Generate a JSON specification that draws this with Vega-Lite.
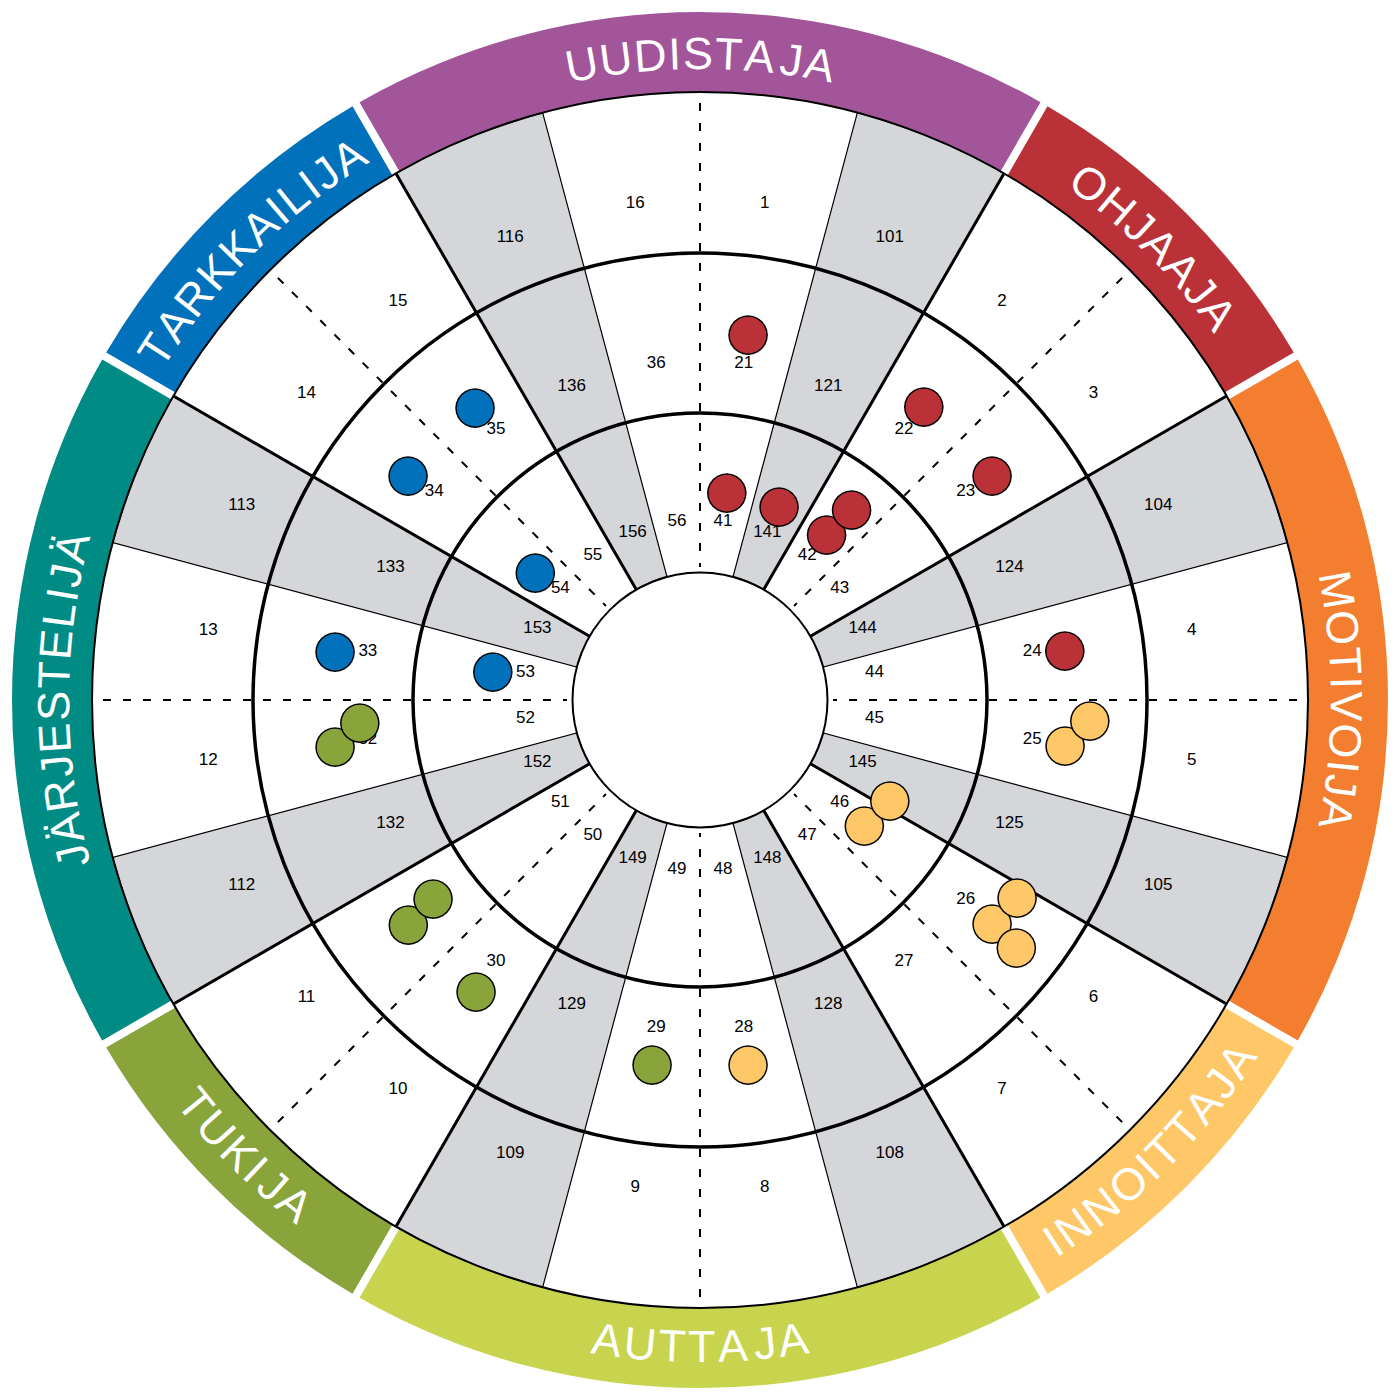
{
  "$schema": "https://vega.github.io/schema/vega-lite/v6.json",
  "width": 1400,
  "height": 1400,
  "autosize": {"type": "none"},
  "padding": 0,
  "background": "white",
  "config": {"view": {"stroke": null}},
  "datasets": {
    "bands": [
      {"role": "UUDISTAJA", "start": -30, "end": 30},
      {"role": "OHJAAJA", "start": 30, "end": 60},
      {"role": "MOTIVOIJA", "start": 60, "end": 120},
      {"role": "INNOITTAJA", "start": 120, "end": 150},
      {"role": "AUTTAJA", "start": 150, "end": 210},
      {"role": "TUKIJA", "start": 210, "end": 240},
      {"role": "JÄRJESTELIJÄ", "start": 240, "end": 300},
      {"role": "TARKKAILIJA", "start": 300, "end": 330}
    ],
    "lettersTop": [
      {"ch": "U", "a": -10.55}, {"ch": "U", "a": -7.48}, {"ch": "D", "a": -4.42}, {"ch": "I", "a": -2.24}, {"ch": "S", "a": -0.18},
      {"ch": "T", "a": 2.55}, {"ch": "A", "a": 5.29}, {"ch": "J", "a": 8.15}, {"ch": "A", "a": 10.66},
      {"ch": "O", "a": 37.03}, {"ch": "H", "a": 40.2}, {"ch": "J", "a": 42.82}, {"ch": "A", "a": 45.33}, {"ch": "A", "a": 48.18},
      {"ch": "J", "a": 50.69}, {"ch": "A", "a": 53.19},
      {"ch": "M", "a": 80.18}, {"ch": "O", "a": 83.58}, {"ch": "T", "a": 86.54}, {"ch": "I", "a": 88.49}, {"ch": "V", "a": 90.56},
      {"ch": "O", "a": 93.62}, {"ch": "I", "a": 95.91}, {"ch": "J", "a": 97.64}, {"ch": "A", "a": 100.15},
      {"ch": "J", "a": 256.03}, {"ch": "Ä", "a": 258.54}, {"ch": "R", "a": 261.49}, {"ch": "J", "a": 264.12}, {"ch": "E", "a": 266.62},
      {"ch": "S", "a": 269.47}, {"ch": "T", "a": 272.2}, {"ch": "E", "a": 274.93}, {"ch": "L", "a": 277.55}, {"ch": "I", "a": 279.39},
      {"ch": "J", "a": 281.13}, {"ch": "Ä", "a": 283.64},
      {"ch": "T", "a": 302.79}, {"ch": "A", "a": 305.52}, {"ch": "R", "a": 308.47}, {"ch": "K", "a": 311.42}, {"ch": "K", "a": 314.27},
      {"ch": "A", "a": 317.11}, {"ch": "I", "a": 319.18}, {"ch": "L", "a": 321.02}, {"ch": "I", "a": 322.86}, {"ch": "J", "a": 324.59},
      {"ch": "A", "a": 327.1}
    ],
    "lettersBottom": [
      {"ch": "I", "a": 146.9}, {"ch": "N", "a": 144.73}, {"ch": "N", "a": 141.66}, {"ch": "O", "a": 138.49}, {"ch": "I", "a": 136.2},
      {"ch": "T", "a": 134.24}, {"ch": "T", "a": 131.62}, {"ch": "A", "a": 128.89}, {"ch": "J", "a": 126.38}, {"ch": "A", "a": 123.87},
      {"ch": "A", "a": 188.26}, {"ch": "U", "a": 185.31}, {"ch": "T", "a": 182.47}, {"ch": "T", "a": 179.84}, {"ch": "A", "a": 177.11},
      {"ch": "J", "a": 174.25}, {"ch": "A", "a": 171.74},
      {"ch": "T", "a": 231.28}, {"ch": "U", "a": 228.44}, {"ch": "K", "a": 225.49}, {"ch": "I", "a": 223.42}, {"ch": "J", "a": 221.34},
      {"ch": "A", "a": 218.83}
    ],
    "grey": [
      {"start": 15, "end": 30}, {"start": 60, "end": 75}, {"start": 105, "end": 120}, {"start": 150, "end": 165},
      {"start": 195, "end": 210}, {"start": 240, "end": 255}, {"start": 285, "end": 300}, {"start": 330, "end": 345}
    ],
    "thick": [{"a": 30}, {"a": 60}, {"a": 120}, {"a": 150}, {"a": 210}, {"a": 240}, {"a": 300}, {"a": 330}],
    "dashed": [{"a": 0}, {"a": 45}, {"a": 90}, {"a": 135}, {"a": 180}, {"a": 225}, {"a": 270}, {"a": 315}],
    "thinRings": [{"r": 127.5}, {"r": 608}],
    "thickRings": [{"r": 287}, {"r": 447}],
    "cells": [
      {"n": "1", "a": 7.5, "r": 496}, {"n": "101", "a": 22.5, "r": 496}, {"n": "2", "a": 37.5, "r": 496}, {"n": "3", "a": 52.5, "r": 496},
      {"n": "104", "a": 67.5, "r": 496}, {"n": "4", "a": 82.5, "r": 496}, {"n": "5", "a": 97.5, "r": 496}, {"n": "105", "a": 112.5, "r": 496},
      {"n": "6", "a": 127.5, "r": 496}, {"n": "7", "a": 142.5, "r": 496}, {"n": "108", "a": 157.5, "r": 496}, {"n": "8", "a": 172.5, "r": 496},
      {"n": "9", "a": 187.5, "r": 496}, {"n": "109", "a": 202.5, "r": 496}, {"n": "10", "a": 217.5, "r": 496}, {"n": "11", "a": 232.5, "r": 496},
      {"n": "112", "a": 247.5, "r": 496}, {"n": "12", "a": 262.5, "r": 496}, {"n": "13", "a": 277.5, "r": 496}, {"n": "113", "a": 292.5, "r": 496},
      {"n": "14", "a": 307.5, "r": 496}, {"n": "15", "a": 322.5, "r": 496}, {"n": "116", "a": 337.5, "r": 496}, {"n": "16", "a": 352.5, "r": 496},
      {"n": "21", "a": 7.5, "r": 335}, {"n": "121", "a": 22.5, "r": 335}, {"n": "22", "a": 37.5, "r": 335}, {"n": "23", "a": 52.5, "r": 335},
      {"n": "124", "a": 67.5, "r": 335}, {"n": "24", "a": 82.5, "r": 335}, {"n": "25", "a": 97.5, "r": 335}, {"n": "125", "a": 112.5, "r": 335},
      {"n": "26", "a": 127.5, "r": 335}, {"n": "27", "a": 142.5, "r": 335}, {"n": "128", "a": 157.5, "r": 335}, {"n": "28", "a": 172.5, "r": 335},
      {"n": "29", "a": 187.5, "r": 335}, {"n": "129", "a": 202.5, "r": 335}, {"n": "30", "a": 217.5, "r": 335}, {"n": "31", "a": 232.5, "r": 335},
      {"n": "132", "a": 247.5, "r": 335}, {"n": "32", "a": 262.5, "r": 335}, {"n": "33", "a": 277.5, "r": 335}, {"n": "133", "a": 292.5, "r": 335},
      {"n": "34", "a": 307.5, "r": 335}, {"n": "35", "a": 322.5, "r": 335}, {"n": "136", "a": 337.5, "r": 335}, {"n": "36", "a": 352.5, "r": 335},
      {"n": "41", "a": 7.5, "r": 176}, {"n": "141", "a": 22.5, "r": 176}, {"n": "42", "a": 37.5, "r": 176}, {"n": "43", "a": 52.5, "r": 176},
      {"n": "144", "a": 67.5, "r": 176}, {"n": "44", "a": 82.5, "r": 176}, {"n": "45", "a": 97.5, "r": 176}, {"n": "145", "a": 112.5, "r": 176},
      {"n": "46", "a": 127.5, "r": 176}, {"n": "47", "a": 142.5, "r": 176}, {"n": "148", "a": 157.5, "r": 176}, {"n": "48", "a": 172.5, "r": 176},
      {"n": "49", "a": 187.5, "r": 176}, {"n": "149", "a": 202.5, "r": 176}, {"n": "50", "a": 217.5, "r": 176}, {"n": "51", "a": 232.5, "r": 176},
      {"n": "152", "a": 247.5, "r": 176}, {"n": "52", "a": 262.5, "r": 176}, {"n": "53", "a": 277.5, "r": 176}, {"n": "153", "a": 292.5, "r": 176},
      {"n": "54", "a": 307.5, "r": 176}, {"n": "55", "a": 322.5, "r": 176}, {"n": "156", "a": 337.5, "r": 176}, {"n": "56", "a": 352.5, "r": 176}
    ],
    "dots": [
      {"g": "red", "a": 7.5, "r": 368}, {"g": "red", "a": 7.4, "r": 208.5}, {"g": "red", "a": 22.3, "r": 208.5},
      {"g": "red", "a": 37.5, "r": 208}, {"g": "red", "a": 38.6, "r": 243}, {"g": "red", "a": 37.4, "r": 368.5},
      {"g": "red", "a": 52.5, "r": 368}, {"g": "red", "a": 82.4, "r": 368},
      {"g": "orange", "a": 97.2, "r": 368}, {"g": "orange", "a": 93.1, "r": 390.5}, {"g": "orange", "a": 127.5, "r": 207},
      {"g": "orange", "a": 118, "r": 215}, {"g": "orange", "a": 127.5, "r": 368}, {"g": "orange", "a": 122, "r": 374},
      {"g": "orange", "a": 128.1, "r": 402}, {"g": "orange", "a": 172.5, "r": 368},
      {"g": "green", "a": 187.5, "r": 368}, {"g": "green", "a": 217.5, "r": 368}, {"g": "green", "a": 232.4, "r": 368},
      {"g": "green", "a": 233.3, "r": 333}, {"g": "green", "a": 262.6, "r": 368}, {"g": "green", "a": 266.2, "r": 341},
      {"g": "blue", "a": 277.5, "r": 368}, {"g": "blue", "a": 277.7, "r": 209}, {"g": "blue", "a": 307.6, "r": 208},
      {"g": "blue", "a": 307.5, "r": 368}, {"g": "blue", "a": 322.4, "r": 368.5}
    ]
  },
  "resolve": {"scale": {"color": "independent", "angle": "independent"}},
  "layer": [
    {
      "data": {"name": "bands"},
      "mark": {"type": "arc", "padAngle": 0.0088},
      "encoding": {
        "theta": {"field": "start", "type": "quantitative", "stack": null, "scale": {"type": "linear", "domain": [0, 360], "range": [0, 6.283185307179586], "zero": false, "nice": false}},
        "theta2": {"field": "end"},
        "radius": {"datum": 688, "type": "quantitative", "stack": null, "scale": {"type": "linear", "domain": [0, 700], "range": [0, 700], "zero": true, "nice": false}},
        "radius2": {"datum": 608},
        "color": {"field": "role", "type": "nominal", "legend": null,
          "scale": {"domain": ["UUDISTAJA", "OHJAAJA", "MOTIVOIJA", "INNOITTAJA", "AUTTAJA", "TUKIJA", "JÄRJESTELIJÄ", "TARKKAILIJA"],
                    "range": ["#A3559A", "#BA3237", "#F37E30", "#FEC868", "#C8D44E", "#88A43B", "#008B85", "#0071BA"]}}
      }
    },
    {
      "data": {"name": "grey"},
      "mark": {"type": "arc", "fill": "#D5D6DA", "stroke": "black", "strokeWidth": 1.2},
      "encoding": {
        "theta": {"field": "start", "type": "quantitative", "stack": null},
        "theta2": {"field": "end"},
        "radius": {"datum": 608, "type": "quantitative", "stack": null},
        "radius2": {"datum": 127.5}
      }
    },
    {
      "data": {"name": "thick"},
      "mark": {"type": "arc", "filled": false, "stroke": "black", "strokeWidth": 3},
      "encoding": {
        "theta": {"field": "a", "type": "quantitative", "stack": null},
        "theta2": {"field": "a"},
        "radius": {"datum": 608, "type": "quantitative", "stack": null},
        "radius2": {"datum": 127.5}
      }
    },
    {
      "data": {"name": "dashed"},
      "mark": {"type": "arc", "filled": false, "stroke": "black", "strokeWidth": 2, "strokeDash": [8, 12], "strokeDashOffset": 0},
      "encoding": {
        "theta": {"field": "a", "type": "quantitative", "stack": null},
        "theta2": {"field": "a"},
        "radius": {"datum": 597, "type": "quantitative", "stack": null},
        "radius2": {"datum": 133}
      }
    },
    {
      "data": {"name": "thinRings"},
      "mark": {"type": "arc", "filled": false, "stroke": "black", "strokeWidth": 2},
      "encoding": {
        "theta": {"datum": 0, "type": "quantitative", "stack": null},
        "theta2": {"datum": 360},
        "radius": {"field": "r", "type": "quantitative", "stack": null}
      }
    },
    {
      "data": {"name": "thickRings"},
      "mark": {"type": "arc", "filled": false, "stroke": "black", "strokeWidth": 3.5},
      "encoding": {
        "theta": {"datum": 0, "type": "quantitative", "stack": null},
        "theta2": {"datum": 360},
        "radius": {"field": "r", "type": "quantitative", "stack": null}
      }
    },
    {
      "data": {"name": "cells"},
      "mark": {"type": "text", "font": "Liberation Sans", "fontSize": 17, "color": "black", "align": "center", "baseline": "alphabetic"},
      "encoding": {
        "theta": {"field": "a", "type": "quantitative", "stack": null},
        "radius": {"field": "r", "type": "quantitative", "stack": null},
        "text": {"field": "n", "type": "nominal"}
      }
    },
    {
      "data": {"name": "lettersTop"},
      "mark": {"type": "text", "font": "Liberation Sans", "fontSize": 45, "color": "white", "align": "center", "baseline": "middle"},
      "encoding": {
        "theta": {"field": "a", "type": "quantitative", "stack": null},
        "radius": {"datum": 645, "type": "quantitative", "stack": null},
        "text": {"field": "ch", "type": "nominal"},
        "angle": {"field": "a", "type": "quantitative", "legend": null,
          "scale": {"type": "linear", "domain": [0, 360], "range": [0, 360], "zero": false, "nice": false}}
      }
    },
    {
      "data": {"name": "lettersBottom"},
      "mark": {"type": "text", "font": "Liberation Sans", "fontSize": 45, "color": "white", "align": "center", "baseline": "middle"},
      "encoding": {
        "theta": {"field": "a", "type": "quantitative", "stack": null},
        "radius": {"datum": 648, "type": "quantitative", "stack": null},
        "text": {"field": "ch", "type": "nominal"},
        "angle": {"field": "a", "type": "quantitative", "legend": null,
          "scale": {"type": "linear", "domain": [0, 360], "range": [180, 540], "zero": false, "nice": false}}
      }
    },
    {
      "data": {"name": "dots"},
      "mark": {"type": "text", "text": "●", "font": "DejaVu Sans", "fontSize": 50, "dy": -2, "stroke": "black", "strokeWidth": 1.5, "align": "center", "baseline": "middle"},
      "encoding": {
        "theta": {"field": "a", "type": "quantitative", "stack": null},
        "radius": {"field": "r", "type": "quantitative", "stack": null},
        "color": {"field": "g", "type": "nominal", "legend": null,
          "scale": {"domain": ["red", "orange", "green", "blue"], "range": ["#BA3237", "#FEC868", "#88A43B", "#0071BA"]}}
      }
    }
  ]
}
